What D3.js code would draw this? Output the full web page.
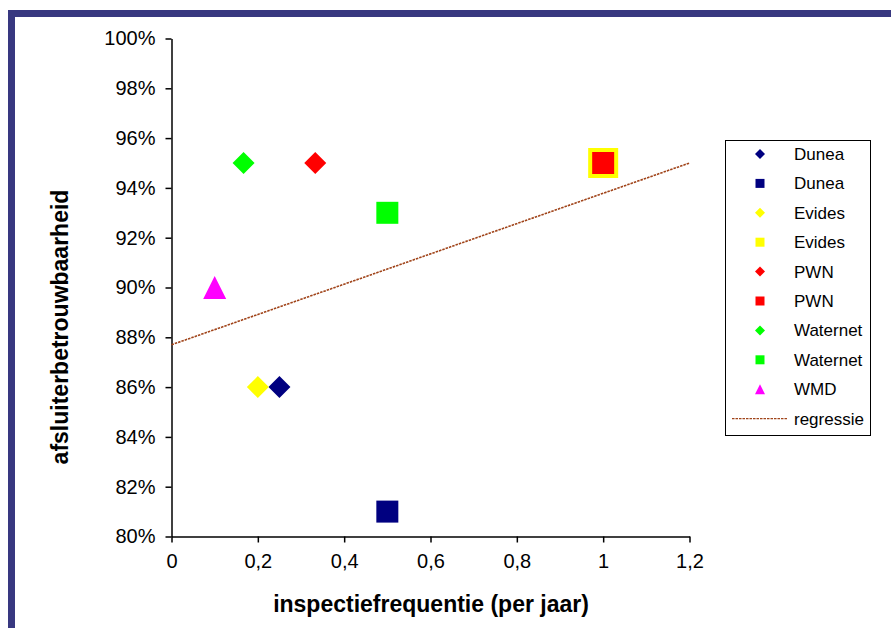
<!DOCTYPE html>
<html>
<head>
<meta charset="utf-8">
<script src="https://cdn.jsdelivr.net/npm/d3@7"></script>
<style>
  body { margin: 0; background: #fff; }
  text { font-family: "Liberation Sans", Arial, sans-serif; }
</style>
</head>
<body>
<div id="chart"></div>
<script>
// series, in legend order
var names   = ["Dunea", "Dunea", "Evides", "Evides", "PWN", "PWN", "Waternet", "Waternet", "WMD"];
var shapes  = ["diamond", "square", "diamond", "square", "diamond", "square", "diamond", "square", "triangle"];
var colors  = ["#000080", "#000080", "#ffff00", "#ffff00", "#ff0000", "#ff0000", "#00ff00", "#00ff00", "#ff00ff"];
var freq    = [0.25, 0.5, 0.2, 1.0, 0.333, 1.0, 0.167, 0.5, 0.1];
var betrouw = [0.86, 0.81, 0.86, 0.95, 0.95, 0.95, 0.95, 0.93, 0.90];
var sizes   = [22, 22, 22, 30, 22, 22, 22, 22, 23];

// regression line
var regrX = [0, 1.2];
var regrY = [0.877, 0.950];

var xTicks = [0, 0.2, 0.4, 0.6, 0.8, 1, 1.2];
var yTicks = [0.80, 0.82, 0.84, 0.86, 0.88, 0.90, 0.92, 0.94, 0.96, 0.98, 1.00];

var width = 891, height = 628;

var svg = d3.select("#chart").append("svg")
    .attr("width", width)
    .attr("height", height);

// navy frame, only the top and left edges are in view
svg.append("rect")
    .attr("x", 11.5)
    .attr("y", 13.5)
    .attr("width", 1000)
    .attr("height", 1000)
    .style("fill", "#fff")
    .style("stroke", "#383880")
    .style("stroke-width", 7);

var x = d3.scaleLinear().domain([0, 1.2]).range([171.5, 689.5]);
var y = d3.scaleLinear().domain([0.8, 1]).range([536.5, 38.5]);

function shapePath(type, s) {
    var h = s / 2;
    if (type == "diamond") {
        return "M0," + (-h) + "L" + h + ",0L0," + h + "L" + (-h) + ",0Z";
    }
    if (type == "triangle") {
        return "M0," + (-h) + "L" + h + "," + h + "L" + (-h) + "," + h + "Z";
    }
    return "M" + (-h) + "," + (-h) + "h" + s + "v" + s + "h" + (-s) + "Z";
}

// axes
var yAxis = d3.axisLeft(y)
    .tickValues(yTicks)
    .tickSize(6)
    .tickSizeOuter(0)
    .tickPadding(10)
    .tickFormat(d3.format(".0%"));

var xAxis = d3.axisBottom(x)
    .tickValues(xTicks)
    .tickSize(6)
    .tickSizeOuter(0)
    .tickPadding(11)
    .tickFormat(function (d) { return String(d).replace(".", ","); });

var gy = svg.append("g")
    .attr("transform", "translate(" + x(0) + ",0)")
    .call(yAxis);

var gx = svg.append("g")
    .attr("transform", "translate(0," + y(0.8) + ")")
    .call(xAxis);

[gx, gy].forEach(function (g) {
    g.selectAll("path, line").style("stroke", "#000").style("stroke-width", 1.5);
    g.selectAll("text")
        .style("font-family", "'Liberation Sans', Arial, sans-serif")
        .style("font-size", "20px")
        .style("fill", "#000");
});

// regression line
svg.append("line")
    .attr("x1", x(regrX[0]))
    .attr("y1", y(regrY[0]))
    .attr("x2", x(regrX[1]))
    .attr("y2", y(regrY[1]))
    .style("stroke", "#a0441a")
    .style("stroke-width", 1.6)
    .style("stroke-dasharray", "2.5,1");

// points
svg.append("g").selectAll("path")
    .data(names)
    .enter().append("path")
    .attr("d", function (d, i) { return shapePath(shapes[i], sizes[i]); })
    .attr("transform", function (d, i) {
        return "translate(" + x(freq[i]) + "," + y(betrouw[i]) + ")";
    })
    .style("fill", function (d, i) { return colors[i]; });

// axis titles
svg.append("text")
    .attr("x", 431)
    .attr("y", 612)
    .attr("text-anchor", "middle")
    .style("font-size", "23px")
    .style("font-weight", "bold")
    .text("inspectiefrequentie (per jaar)");

svg.append("text")
    .attr("transform", "translate(68,327) rotate(-90)")
    .attr("text-anchor", "middle")
    .style("font-size", "23px")
    .style("font-weight", "bold")
    .text("afsluiterbetrouwbaarheid");

// legend
var legend = svg.append("g");

legend.append("rect")
    .attr("x", 725.5)
    .attr("y", 140.5)
    .attr("width", 145)
    .attr("height", 295)
    .style("fill", "#fff")
    .style("stroke", "#000")
    .style("stroke-width", 1);

var rowY = function (i) { return 154 + i * 29.4; };

names.forEach(function (n, i) {
    legend.append("path")
        .attr("d", shapePath(shapes[i], shapes[i] == "square" ? 9 : 10))
        .attr("transform", "translate(760," + rowY(i) + ")")
        .style("fill", colors[i]);
    legend.append("text")
        .attr("x", 794)
        .attr("y", rowY(i) + 6)
        .style("font-size", "17px")
        .text(n);
});

legend.append("line")
    .attr("x1", 732)
    .attr("x2", 788)
    .attr("y1", rowY(9))
    .attr("y2", rowY(9))
    .style("stroke", "#a0441a")
    .style("stroke-width", 1.4)
    .style("stroke-dasharray", "2.5,1");

legend.append("text")
    .attr("x", 794)
    .attr("y", rowY(9) + 6)
    .style("font-size", "17px")
    .text("regressie");
</script>
</body>
</html>
